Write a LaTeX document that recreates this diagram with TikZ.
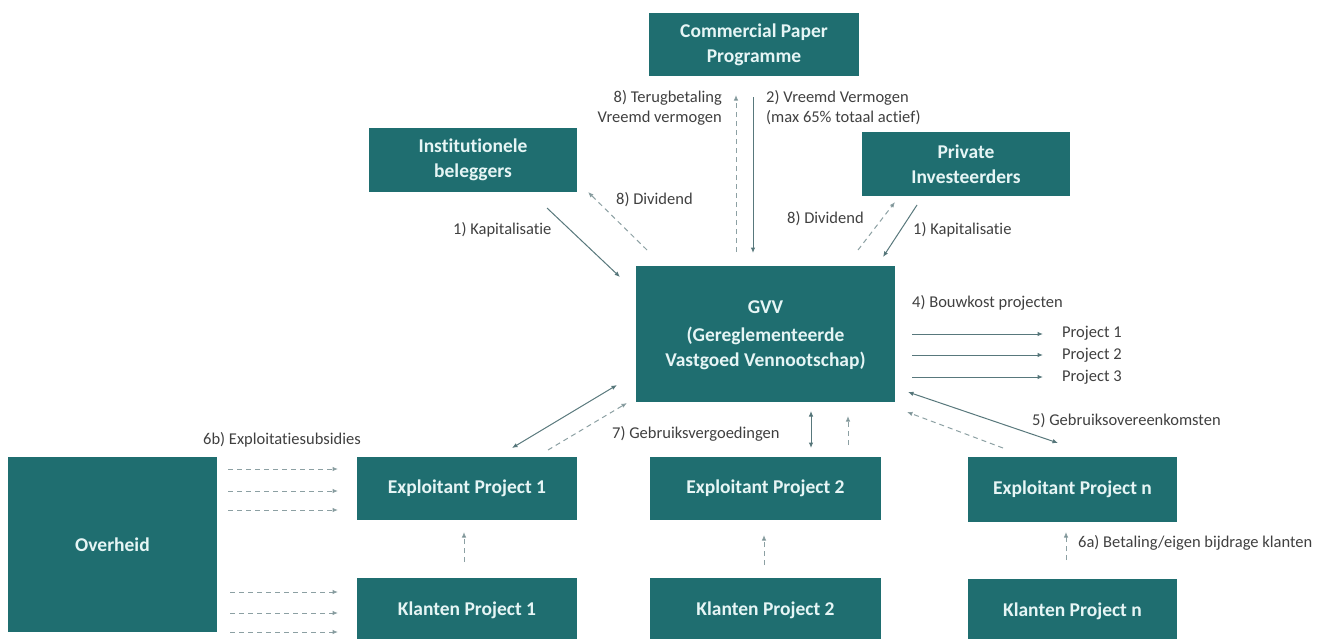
\documentclass[tikz,border=0pt]{standalone}
\usepackage{fontspec}
\setmainfont{Carlito}[Ligatures={NoCommon}]
\usetikzlibrary{arrows.meta}
\definecolor{boxteal}{RGB}{31,110,112}
\definecolor{boxtext}{RGB}{230,245,245}
\definecolor{labelgray}{RGB}{64,64,64}
\definecolor{solidline}{RGB}{88,120,124}
\definecolor{dashline}{RGB}{140,160,163}
\definecolor{tipcol}{RGB}{50,90,95}
\tikzset{
  box/.style={fill=boxteal, text=boxtext, font=\bfseries\fontsize{19.5}{25}\selectfont,
    align=center, inner sep=0pt, minimum width=#1},
  lbl/.style={text=labelgray, font=\fontsize{16.5}{20}\selectfont, inner sep=0pt, anchor=west},
  tip/.style={-{Latex[length=5.5pt,width=4.5pt,fill=tipcol]}},
  dtip/.style={{Latex[length=5.5pt,width=4.5pt,fill=tipcol]}-{Latex[length=5.5pt,width=4.5pt,fill=tipcol]}},
  solidarrow/.style={tip, draw=solidline, line width=1pt},
  dblarrow/.style={dtip, draw=solidline, line width=1pt},
  dasharrow/.style={tip, draw=dashline, line width=1pt, dash pattern=on 5pt off 4pt},
}
\begin{document}
\begin{tikzpicture}[x=1pt,y=-1pt]
\useasboundingbox (0,0) rectangle (1331,638);
\clip (0,0) rectangle (1331,638);
\fill[white] (0,0) rectangle (1331,638);

% boxes
\node[box=210pt, minimum height=63pt] (cpp) at (754,44.5) {Commercial Paper\\Programme};
\node[box=208pt, minimum height=64pt] (inst) at (473,160) {Institutionele\\beleggers};
\node[box=208pt, minimum height=64pt] (priv) at (966,164) {Private\\Investeerders};
\node[box=259pt, minimum height=136pt, text depth=-4pt] (gvv) at (765.5,334) {GVV\\[3pt](Gereglementeerde\\Vastgoed Vennootschap)};
\node[box=209pt, minimum height=175pt] (overheid) at (112.5,544.5) {Overheid};
\node[box=220pt, minimum height=63pt] (exp1) at (467,488.5) {Exploitant Project 1};
\node[box=231pt, minimum height=63pt] (exp2) at (765.5,488.5) {Exploitant Project 2};
\node[box=209pt, minimum height=65pt] (expn) at (1072.5,489.5) {Exploitant Project n};
\node[box=220pt, minimum height=64pt] (kl1) at (467,610) {Klanten Project 1};
\node[box=231pt, minimum height=64pt] (kl2) at (765.5,610) {Klanten Project 2};
\node[box=209pt, minimum height=64pt] (kln) at (1072.5,611) {Klanten Project n};

% project labels
\node[lbl] (p1) at (1062,333) {Project 1};
\node[lbl] (p2) at (1062,355) {Project 2};
\node[lbl] (p3) at (1062,377) {Project 3};

% connector end points
\coordinate (instA) at (547,208);  \coordinate (gvvA) at (620,277);
\coordinate (gvvB) at (647,250);   \coordinate (instB) at (588,192);
\coordinate (cppC) at (753,97);    \coordinate (gvvC) at (753,253);
\coordinate (gvvD) at (736,252);   \coordinate (cppD) at (736,95);
\coordinate (privE) at (917,205);  \coordinate (gvvE) at (883,257);
\coordinate (gvvF) at (858,250);   \coordinate (privF) at (895,202);
\coordinate (g1) at (912,334); \coordinate (q1) at (1043,334);
\coordinate (g2) at (912,355); \coordinate (q2) at (1043,355);
\coordinate (g3) at (912,377); \coordinate (q3) at (1043,377);
\coordinate (gvvG) at (908,392);   \coordinate (expnG) at (1058,443);
\coordinate (expnH) at (1003,448); \coordinate (gvvH) at (907,412);
\coordinate (exp1I) at (512,448);  \coordinate (gvvI) at (617,385);
\coordinate (exp1J) at (548,450);  \coordinate (gvvJ) at (627,403);
\coordinate (gvvK) at (811,411);   \coordinate (exp2K) at (811,448);
\coordinate (exp2L) at (848,445);  \coordinate (gvvL) at (848,416);
\coordinate (kl1M) at (464,562);   \coordinate (exp1M) at (464,532);
\coordinate (kl2N) at (764,565);   \coordinate (exp2N) at (764,535);
\coordinate (klnO) at (1066,560);  \coordinate (expnO) at (1066,532);
\coordinate (ov1) at (228,469); \coordinate (e1) at (338,469);
\coordinate (ov2) at (228,491); \coordinate (e2) at (338,491);
\coordinate (ov3) at (228,510); \coordinate (e3) at (338,510);
\coordinate (ov4) at (230,592); \coordinate (k4) at (338,592);
\coordinate (ov5) at (230,613); \coordinate (k5) at (338,613);
\coordinate (ov6) at (230,632); \coordinate (k6) at (338,632);

% connectors
\draw[solidarrow] (instA) -- (gvvA);
\draw[dasharrow] (gvvB) -- (instB);
\draw[solidarrow] (cppC) -- (gvvC);
\draw[dasharrow] (gvvD) -- (cppD);
\draw[solidarrow] (privE) -- (gvvE);
\draw[dasharrow] (gvvF) -- (privF);
\draw[solidarrow] (g1) -- (q1);
\draw[solidarrow] (g2) -- (q2);
\draw[solidarrow] (g3) -- (q3);
\draw[dblarrow] (gvvG) -- (expnG);
\draw[dasharrow] (expnH) -- (gvvH);
\draw[dblarrow] (exp1I) -- (gvvI);
\draw[dasharrow] (exp1J) -- (gvvJ);
\draw[dblarrow] (gvvK) -- (exp2K);
\draw[dasharrow] (exp2L) -- (gvvL);
\draw[dasharrow] (kl1M) -- (exp1M);
\draw[dasharrow] (kl2N) -- (exp2N);
\draw[dasharrow] (klnO) -- (expnO);
\draw[dasharrow] (ov1) -- (e1);
\draw[dasharrow] (ov2) -- (e2);
\draw[dasharrow] (ov3) -- (e3);
\draw[dasharrow] (ov4) -- (k4);
\draw[dasharrow] (ov5) -- (k5);
\draw[dasharrow] (ov6) -- (k6);

% labels
\node[lbl, anchor=east, align=right] (l8t) at (722,108) {8) Terugbetaling\\Vreemd vermogen};
\node[lbl, align=left] (l2) at (766,108) {2) Vreemd Vermogen\\(max 65\% totaal actief)};
\node[lbl] (l8a) at (616,200) {8) Dividend};
\node[lbl] (l1a) at (453,230) {1) Kapitalisatie};
\node[lbl] (l8b) at (787,219) {8) Dividend};
\node[lbl] (l1b) at (913,230) {1) Kapitalisatie};
\node[lbl] (l4) at (912,303) {4) Bouwkost projecten};
\node[lbl] (l5) at (1032,421) {5) Gebruiksovereenkomsten};
\node[lbl] (l7) at (612,434) {7) Gebruiksvergoedingen};
\node[lbl] (l6b) at (203,440) {6b) Exploitatiesubsidies};
\node[lbl] (l6a) at (1078,543) {6a) Betaling/eigen bijdrage klanten};
\end{tikzpicture}
\end{document}
